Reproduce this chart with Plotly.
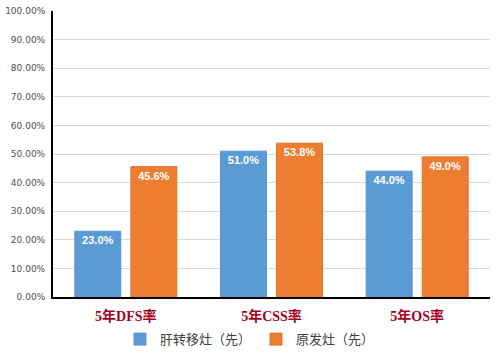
import plotly.graph_objects as go

categories = ["5年DFS率", "5年CSS率", "5年OS率"]
series_names = ["肝转移灶（先）", "原发灶（先）"]
liver_first = [23.0, 51.0, 44.0]
primary_first = [45.6, 53.8, 49.0]
tick_vals = [0, 10, 20, 30, 40, 50, 60, 70, 80, 90, 100]
tick_text = [f"{v:.2f}%" for v in tick_vals]

colors = ["#5B9BD5", "#ED7D31"]
line_colors = ["#5a96cf", "#e2772f"]

fig = go.Figure()
for name, vals, c, lc in zip(series_names, [liver_first, primary_first], colors, line_colors):
    fig.add_trace(go.Bar(
        x=categories, y=vals, name=name,
        marker=dict(color=c, line=dict(color=lc, width=1)),
        text=[f"{v:.1f}%" for v in vals],
        textposition="inside", insidetextanchor="end",
        textangle=0,
        textfont=dict(color="white", size=11, family="Liberation Sans", weight="bold"),
    ))

fig.update_layout(
    width=500, height=353,
    margin=dict(l=53, r=10, t=11, b=56, autoexpand=False),
    paper_bgcolor="white", plot_bgcolor="white",
    barmode="group", bargap=0.23, bargroupgap=0.18,
    showlegend=True,
    legend=dict(orientation="h", x=(250 - 53) / 437, xanchor="center",
                y=-0.095, yanchor="top",
                font=dict(family="Liberation Serif, Noto Sans CJK SC", size=13, color="#404040"),
                itemwidth=30, traceorder="normal"),
    font=dict(family="DejaVu Sans"),
)
fig.update_xaxes(
    showline=True, linecolor="black", linewidth=2,
    tickfont=dict(family="Liberation Serif, Noto Sans CJK SC", size=14,
                  color="#A50021", weight="bold"),
    ticks="", ticklabelstandoff=5, automargin=False,
)
fig.update_yaxes(
    range=[0, 100], tickvals=tick_vals, ticktext=tick_text,
    showgrid=True, gridcolor="#d9d9d9", gridwidth=1,
    showline=True, linecolor="black", linewidth=2,
    tickfont=dict(family="DejaVu Sans", size=9, color="#505050"),
    zeroline=False, automargin=False, ticklabelstandoff=4,
)
fig.write_html("out.html")
